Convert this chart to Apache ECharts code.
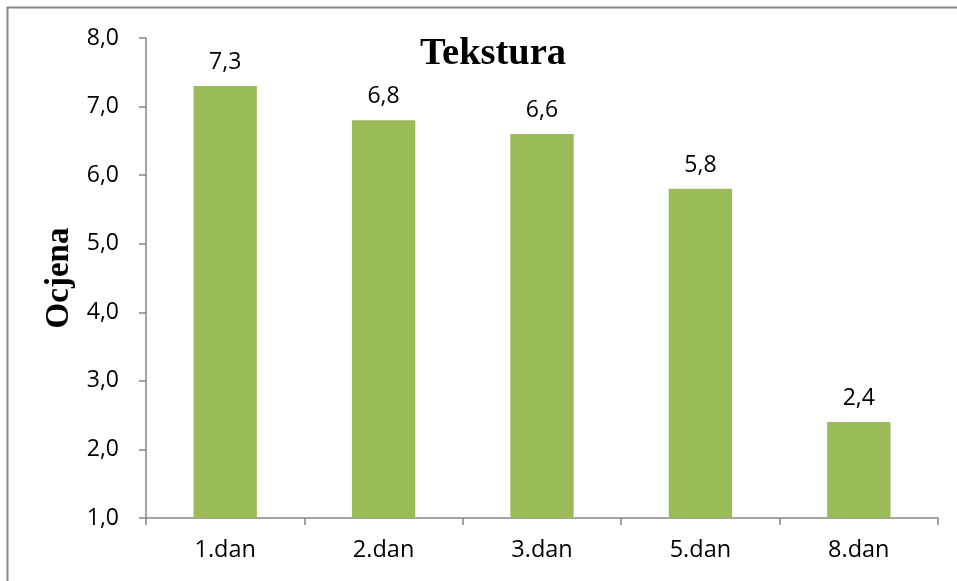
<!DOCTYPE html>
<html><head><meta charset="utf-8">
<script src="https://cdn.jsdelivr.net/npm/echarts@6/dist/echarts.min.js"></script>
<style>html,body{margin:0;padding:0;background:#fff}#c{width:957px;height:581px}</style>
</head><body><div id="c"></div>
<script>
const categories = ['1.dan','2.dan','3.dan','5.dan','8.dan'];
const values = [7.3, 6.8, 6.6, 5.8, 2.4];
const chartTitle = 'Tekstura';
const yName = 'Ocjena';
const chart = echarts.init(document.getElementById('c'));
const fmt = v => v.toFixed(1).replace('.', ',');
chart.setOption({
  animation:false,
  graphic:[{type:'rect',shape:{x:7.5,y:7.5,width:1000,height:1000},style:{fill:'none',stroke:'#868686',lineWidth:2},silent:true}],
  title:{text:chartTitle,left:488,top:30,textAlign:'center',textStyle:{fontFamily:'Liberation Serif',fontWeight:'bold',fontSize:38.5,color:'#000'}},
  grid:{left:146,right:19,top:38,bottom:63,containLabel:false},
  xAxis:{type:'category',data:categories,
    axisLine:{lineStyle:{color:'#868686',width:1.5}},
    axisTick:{show:true,length:7,lineStyle:{color:'#868686',width:1.5}},
    axisLabel:{color:'#000',fontFamily:'Open Sans',fontSize:23.5,margin:20}},
  yAxis:{type:'value',min:1,max:8,interval:1,name:yName,nameLocation:'middle',nameGap:61,nameRotate:90,
    nameTextStyle:{fontFamily:'Liberation Serif',fontWeight:'bold',fontSize:33,color:'#000'},
    axisLine:{show:true,lineStyle:{color:'#868686',width:1.5}},
    axisTick:{show:true,length:7,lineStyle:{color:'#868686',width:1.5}},
    splitLine:{show:false},
    axisLabel:{color:'#000',fontFamily:'Open Sans',fontSize:23,margin:27,formatter:fmt}},
  series:[{type:'bar',data:values,barWidth:'40%',itemStyle:{color:'#9BBB59'},
    label:{show:true,position:'top',distance:12,color:'#000',fontFamily:'Open Sans',fontSize:23,formatter:p=>fmt(p.value)}}]
});
</script></body></html>
